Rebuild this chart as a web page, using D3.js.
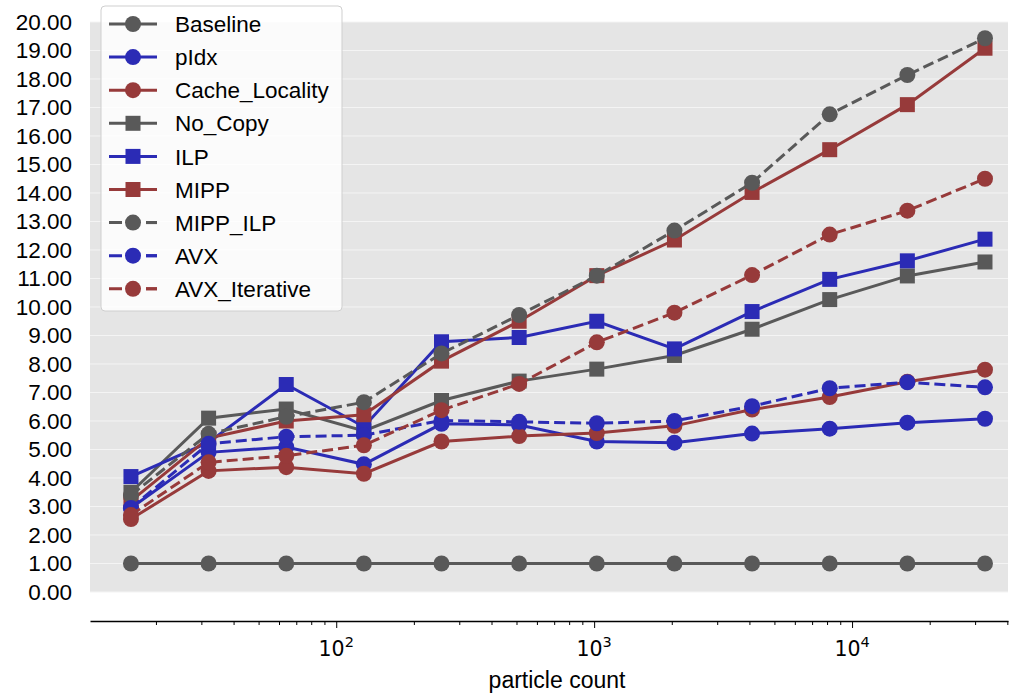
<!DOCTYPE html>
<html>
<head>
<meta charset="utf-8">
<script src="https://cdn.jsdelivr.net/npm/d3@7"></script>
<style>
  body { margin: 0; background: #fff; }
  svg { display: block; font-family: "Liberation Sans", Arial, Helvetica, sans-serif; }
</style>
</head>
<body>
<svg></svg>
<script>
// particle counts on the x axis
const counts = [16, 32, 64, 128, 256, 512, 1024, 2048, 4096, 8192, 16384, 32768];

// speedup per variant
const baseline = [1, 1, 1, 1, 1, 1, 1, 1, 1, 1, 1, 1];
const pIdx = [2.95, 4.9, 5.09, 4.48, 5.9, 5.86, 5.28, 5.24, 5.56, 5.73, 5.94, 6.08];
const cacheLocality = [2.56, 4.25, 4.38, 4.15, 5.28, 5.47, 5.58, 5.83, 6.4, 6.84, 7.38, 7.8];
const noCopy = [3.5, 6.1, 6.42, 5.65, 6.72, 7.4, 7.82, 8.3, 9.22, 10.26, 11.09, 11.58];
const ilp = [4.05, 5.25, 7.28, 5.8, 8.78, 8.93, 9.5, 8.53, 9.84, 10.97, 11.62, 12.38];
const mipp = [3.2, 5.4, 6.0, 6.22, 8.1, 9.5, 11.1, 12.35, 14.02, 15.52, 17.1, 19.08];
const mippIlp = [3.4, 5.55, 6.15, 6.66, 8.37, 9.72, 11.1, 12.68, 14.36, 16.76, 18.14, 19.43];
const avx = [2.95, 5.2, 5.45, 5.5, 6.02, 5.97, 5.92, 6.0, 6.52, 7.15, 7.36, 7.18];
const avxIterative = [2.7, 4.55, 4.78, 5.15, 6.38, 7.3, 8.76, 9.8, 11.12, 12.54, 13.38, 14.5];

const seriesNames = ["Baseline", "pIdx", "Cache_Locality", "No_Copy", "ILP", "MIPP", "MIPP_ILP", "AVX", "AVX_Iterative"];
const seriesValues = [baseline, pIdx, cacheLocality, noCopy, ilp, mipp, mippIlp, avx, avxIterative];
const seriesColors = ["#595959", "#2b2bb5", "#973a3a", "#595959", "#2b2bb5", "#973a3a", "#595959", "#2b2bb5", "#973a3a"];
const seriesMarkers = ["circle", "circle", "circle", "square", "square", "square", "circle", "circle", "circle"];
const seriesDashed = [false, false, false, false, false, false, true, true, true];

const yTicks = d3.range(0, 21);
const xMajorTicks = [100, 1000, 10000];

// chart size
const width = 1010;
const height = 694;
const plotLeft = 90;
const plotRight = 1008;
const plotTop = 22;
const plotBottom = 592;
const axisY = 621;

const svg = d3.select("svg")
  .attr("width", width)
  .attr("height", height);

const x = d3.scaleLog()
  .domain([11.1, 40240])
  .range([plotLeft, plotRight]);

const y = d3.scaleLinear()
  .domain([0, 20])
  .range([plotBottom, plotTop]);

// gray plot background
svg.append("rect")
  .attr("x", plotLeft)
  .attr("y", plotTop)
  .attr("width", plotRight - plotLeft)
  .attr("height", plotBottom - plotTop)
  .attr("fill", "#e5e5e5");

// horizontal grid
svg.append("g")
  .selectAll("line")
  .data(yTicks).enter().append("line")
  .attr("x1", plotLeft)
  .attr("x2", plotRight)
  .attr("y1", d => y(d))
  .attr("y2", d => y(d))
  .attr("stroke", "#f4f4f4")
  .attr("stroke-width", 1);

// y axis, labels only
const yAxis = svg.append("g")
  .attr("transform", `translate(${plotLeft}, 0)`)
  .call(d3.axisLeft(y).tickValues(yTicks).tickFormat(d3.format(".2f")).tickSize(0).tickPadding(18));
yAxis.select(".domain").remove();
yAxis.selectAll("text")
  .attr("font-size", "22.5px")
  .attr("font-family", "Liberation Sans, Arial, sans-serif")
  .attr("fill", "#000");

// x axis, offset below the plot
const xAxis = svg.append("g")
  .attr("transform", `translate(0, ${axisY})`)
  .call(d3.axisBottom(x).ticks(10, "").tickSize(4).tickSizeOuter(0));
xAxis.select(".domain").attr("stroke-width", 1.6);
xAxis.selectAll(".tick line").attr("stroke-width", 1);
xAxis.selectAll(".tick text").remove();
xAxis.selectAll(".tick")
  .filter(d => xMajorTicks.includes(d))
  .select("line")
  .attr("y2", 7);

// power of ten labels
const xLabels = svg.append("g")
  .selectAll("text")
  .data(xMajorTicks).enter().append("text")
  .attr("x", d => x(d))
  .attr("y", axisY + 35)
  .attr("text-anchor", "middle")
  .attr("font-family", "DejaVu Sans, sans-serif")
  .attr("font-size", "20.5px");
xLabels.append("tspan").text("10");
xLabels.append("tspan")
  .attr("dy", -9)
  .attr("font-size", "14.5px")
  .text(d => Math.round(Math.log10(d)));

// x axis title
svg.append("text")
  .attr("x", 557)
  .attr("y", 688)
  .attr("text-anchor", "middle")
  .attr("font-size", "23px")
  .text("particle count");

const line = d3.line()
  .x((d, i) => x(counts[i]))
  .y(d => y(d));

function drawMarker(g, kind, color, cx, cy) {
  if (kind === "circle") {
    g.append("circle")
      .attr("cx", cx)
      .attr("cy", cy)
      .attr("r", 8)
      .attr("fill", color);
  } else {
    g.append("rect")
      .attr("x", cx - 7.5)
      .attr("y", cy - 7.5)
      .attr("width", 15)
      .attr("height", 15)
      .attr("fill", color);
  }
}

// render series
seriesValues.forEach((values, s) => {
  const g = svg.append("g");
  g.append("path")
    .attr("d", line(values))
    .attr("fill", "none")
    .attr("stroke", seriesColors[s])
    .attr("stroke-width", 3)
    .attr("stroke-dasharray", seriesDashed[s] ? "11,5" : null);
  values.forEach((v, i) => drawMarker(g, seriesMarkers[s], seriesColors[s], x(counts[i]), y(v)));
});

// legend
const legend = svg.append("g");
legend.append("rect")
  .attr("x", 101)
  .attr("y", 6)
  .attr("width", 241)
  .attr("height", 305)
  .attr("rx", 4)
  .attr("fill", "#fff")
  .attr("fill-opacity", 0.85)
  .attr("stroke", "#cfcfcf");

seriesNames.forEach((name, s) => {
  const ly = 24 + s * 33.1;
  const item = legend.append("g");
  item.append("line")
    .attr("x1", 109)
    .attr("x2", 157)
    .attr("y1", ly)
    .attr("y2", ly)
    .attr("stroke", seriesColors[s])
    .attr("stroke-width", 3)
    .attr("stroke-dasharray", seriesDashed[s] ? "13,24" : null);
  if (seriesDashed[s]) {
    item.append("line")
      .attr("x1", 146)
      .attr("x2", 157)
      .attr("y1", ly)
      .attr("y2", ly)
      .attr("stroke", seriesColors[s])
      .attr("stroke-width", 3);
  }
  drawMarker(item, seriesMarkers[s], seriesColors[s], 133, ly);
  item.append("text")
    .attr("x", 175)
    .attr("y", ly)
    .attr("dy", "0.36em")
    .attr("font-size", "22.5px")
    .text(name);
});
</script>
</body>
</html>
